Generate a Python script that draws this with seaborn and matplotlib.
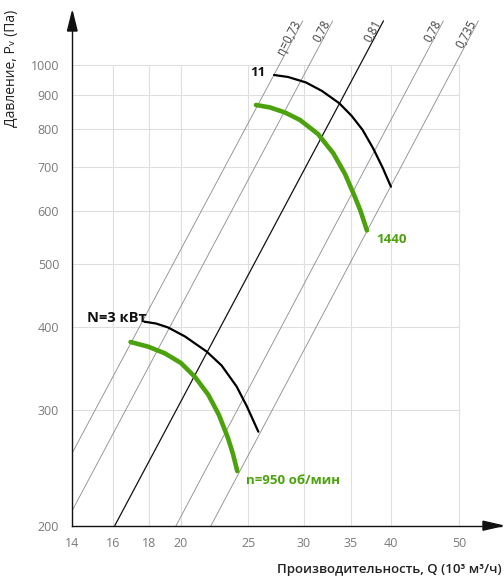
import numpy as np
import pandas as pd
import matplotlib
matplotlib.use("Agg")
import matplotlib.pyplot as plt
import seaborn as sns
from matplotlib.patches import Polygon
from matplotlib.ticker import FixedLocator, FixedFormatter, NullLocator

# ---------------- data ----------------
x_ticks = [14, 16, 18, 20, 25, 30, 35, 40, 50]
y_ticks = [200, 300, 400, 500, 600, 700, 800, 900, 1000]

# fan curves (Q in 10^3 m3/h, P in Pa)
q_n1440 = [25.63, 26.84, 28.19, 29.62, 31.43, 33.06, 34.36, 35.50, 36.15, 36.93]
p_n1440 = [870.4, 862.9, 847.9, 826.0, 786.5, 735.3, 683.8, 631.0, 601.5, 561.4]

q_n950 = [16.96, 17.98, 18.99, 20.02, 20.97, 21.91, 22.69, 23.37, 23.76, 24.10]
p_n950 = [380.1, 373.9, 365.3, 353.2, 336.3, 316.0, 294.5, 271.8, 257.0, 242.1]

q_N11 = [27.20, 28.48, 30.22, 31.85, 33.72, 35.13, 36.39, 37.67, 38.87, 39.97]
p_N11 = [966.6, 959.9, 941.6, 914.1, 875.6, 837.6, 798.4, 749.0, 700.0, 654.1]

q_N3 = [17.74, 18.44, 19.18, 20.29, 21.79, 22.89, 24.05, 24.86, 25.83]
p_N3 = [408.1, 405.5, 400.0, 387.5, 367.6, 350.1, 325.3, 303.9, 277.8]

# efficiency lines
eff_labels = ["η=0,73", "0,78", "0,81", "0,78", "0,735"]
eff_q_start = [14.0, 14.0, 16.1, 19.7, 22.1]
eff_p_start = [258, 211, 200, 200, 200]
eff_q_end = [29.9, 33.0, 39.0, 47.5, 53.3]
eff_p_end = [1168, 1168, 1168, 1168, 1168]

curve_labels = ["11", "N=3 кВт", "1440", "n=950 об/мин"]

# ---------------- style ----------------
sns.set_style("white")
plt.rcParams["font.family"] = ["Open Sans", "DejaVu Sans"]

GREEN = "#4ca20c"
W, H = 504, 588
fig = plt.figure(figsize=(W / 100, H / 100), dpi=100)

def fx(px):
    return px / W

def fy(py):
    return 1 - py / H

ax_l, ax_r, ax_t, ax_b = 72.3, 501.4, 13.1, 525.7
ax = fig.add_axes([fx(ax_l), fy(ax_b), (ax_r - ax_l) / W, (ax_b - ax_t) / H])
ax.set_xscale("log")
ax.set_yscale("log")
ax.set_xlim(14, 57.5)
ax.set_ylim(200, 1200)

# grid segments
ax.vlines(x_ticks[1:], y_ticks[0], y_ticks[-1], color="#dedede", lw=0.8, zorder=0)
ax.hlines(y_ticks[1:], x_ticks[0], x_ticks[-1], color="#dedede", lw=0.8, zorder=0)

# efficiency lines
for i, lab in enumerate(eff_labels):
    d = pd.DataFrame({"Q": [eff_q_start[i], eff_q_end[i]],
                      "P": [eff_p_start[i], eff_p_end[i]]})
    col = "#111111" if lab == "0,81" else "#8a8a8a"
    lw = 0.9 if lab == "0,81" else 0.6
    sns.lineplot(data=d, x="Q", y="P", ax=ax, color=col, lw=lw,
                 estimator=None, sort=False, zorder=2)

# fan curves
curves = [
    (q_N11, p_N11, "black", 1.6),
    (q_N3, p_N3, "black", 1.6),
    (q_n1440, p_n1440, GREEN, 3.3),
    (q_n950, p_n950, GREEN, 3.3),
]
for q, p, c, lw in curves:
    d = pd.DataFrame({"Q": q, "P": p})
    sns.lineplot(data=d, x="Q", y="P", ax=ax, color=c, lw=lw,
                 estimator=None, sort=False, zorder=4,
                 solid_capstyle="round", solid_joinstyle="round")

# ticks
ax.xaxis.set_major_locator(FixedLocator(x_ticks))
ax.xaxis.set_major_formatter(FixedFormatter([str(v) for v in x_ticks]))
ax.xaxis.set_minor_locator(NullLocator())
ax.yaxis.set_major_locator(FixedLocator(y_ticks))
ax.yaxis.set_major_formatter(FixedFormatter([str(v) for v in y_ticks]))
ax.yaxis.set_minor_locator(NullLocator())
ax.tick_params(axis="x", direction="out", length=4.3, width=0.8, color="#222",
               labelsize=9, labelcolor="#7a7a7a", pad=4)
ax.tick_params(axis="y", direction="out", length=5, width=0.8, color="#222",
               labelsize=9, labelcolor="#7a7a7a", pad=4.5)
ax.set_xlabel("")
ax.set_ylabel("")

for s in ["top", "right"]:
    ax.spines[s].set_visible(False)
for s in ["left", "bottom"]:
    ax.spines[s].set_color("#111")
    ax.spines[s].set_linewidth(1.0)

# efficiency labels
fig.canvas.draw()
for i, lab in enumerate(eff_labels):
    p0 = ax.transData.transform((eff_q_start[i], eff_p_start[i]))
    p1 = ax.transData.transform((eff_q_end[i], eff_p_end[i]))
    ang = np.degrees(np.arctan2(p1[1] - p0[1], p1[0] - p0[0]))
    ax.annotate(lab, (eff_q_end[i], eff_p_end[i]), xytext=(-1.5, -1.5),
                textcoords="offset points", ha="right", va="baseline",
                rotation=ang, rotation_mode="anchor", fontsize=8.5,
                color="#444", zorder=5)

# curve labels
ax.annotate(curve_labels[0], (q_N11[0], p_N11[0]), xytext=(-6.5, 1.5),
            textcoords="offset points", ha="right", va="center",
            fontsize=9.5, fontweight="bold", color="#111")
ax.annotate(curve_labels[1], (q_N3[0], p_N3[0]), xytext=(2, 2.7),
            textcoords="offset points", ha="right", va="center",
            fontsize=10.5, fontweight="bold", color="#111")
ax.annotate(curve_labels[2], (q_n1440[-1], p_n1440[-1]), xytext=(6.5, -6.5),
            textcoords="offset points", ha="left", va="center",
            fontsize=9.5, fontweight="bold", color=GREEN)
ax.annotate(curve_labels[3], (q_n950[-1], p_n950[-1]), xytext=(6, -6.5),
            textcoords="offset points", ha="left", va="center",
            fontsize=9.5, fontweight="bold", color=GREEN)

# arrows
fig.patches.append(Polygon([(fx(72.3), fy(11.5)), (fx(67.5), fy(31)), (fx(77.1), fy(31))],
                           closed=True, transform=fig.transFigure, color="#111",
                           figure=fig, zorder=10))
fig.patches.append(Polygon([(fx(502.5), fy(525.7)), (fx(483), fy(521.2)), (fx(483), fy(530.2))],
                           closed=True, transform=fig.transFigure, color="#111",
                           figure=fig, zorder=10))

# axis titles
fig.text(fx(11.5), fy(68), "Давление, Pᵥ (Па)", rotation=90, ha="center",
         va="center", fontsize=10, color="#222")
fig.text(fx(502), fy(570), "Производительность, Q (10³ м³/ч)", ha="right",
         va="center", fontsize=9.5, fontweight="semibold", color="#222")

fig.savefig("out.png", dpi=100)
